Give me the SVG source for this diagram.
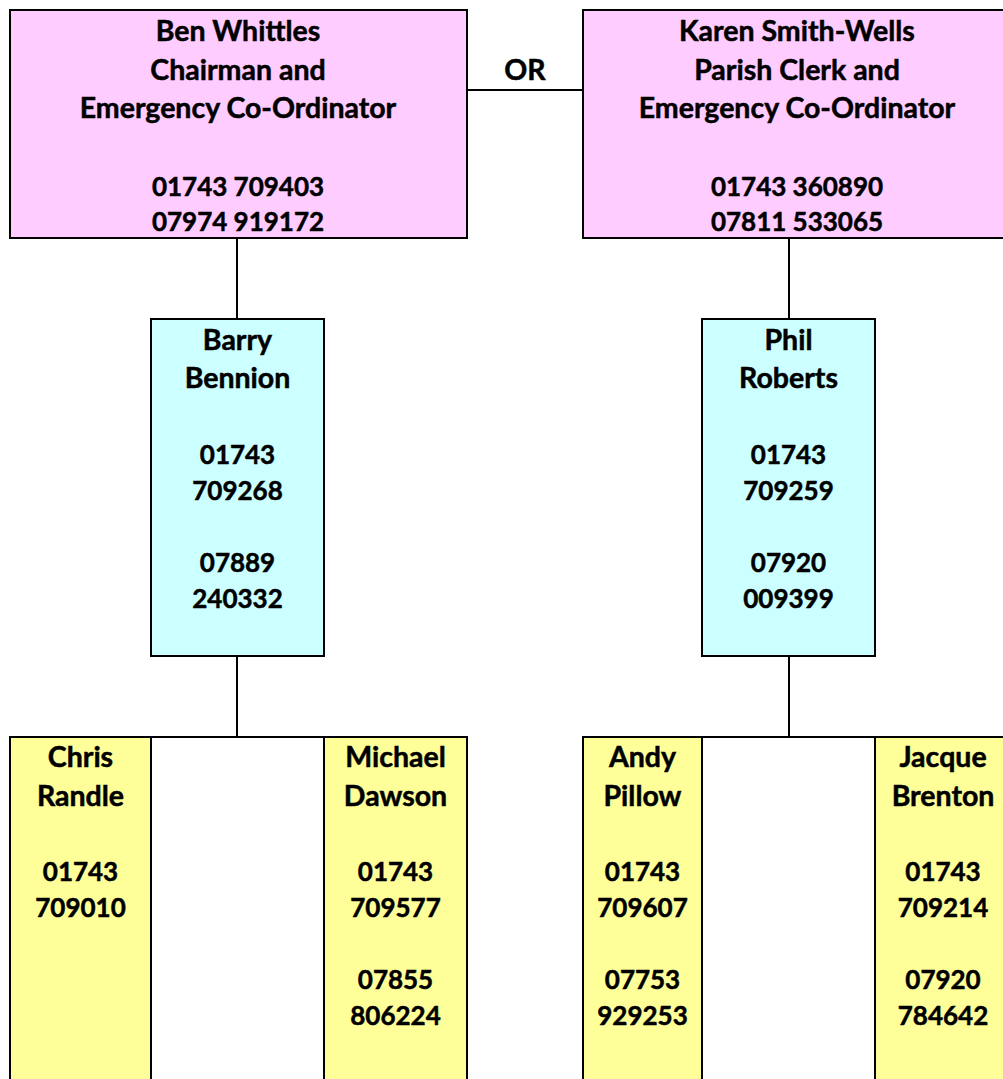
<svg xmlns="http://www.w3.org/2000/svg" width="1003" height="1079" viewBox="0 0 1003 1079">
<style>
.box{stroke:#000;stroke-width:2}
.pink{fill:#FFCCFF}
.cyan{fill:#CCFFFF}
.yellow{fill:#FFFF99}
.t{font-family:Lato,"Liberation Sans",sans-serif;font-weight:bold;font-size:28.5px;fill:#000;stroke:#000;stroke-width:0.5;text-anchor:middle}
.n{font-size:26px}
.conn{stroke:#000;stroke-width:2;fill:none}
</style>
<rect width="1003" height="1079" fill="#fff"/>
<g id="connectors">
<line class="conn" x1="467" y1="90" x2="583" y2="90"/>
<line class="conn" x1="237" y1="238" x2="237" y2="319"/>
<line class="conn" x1="789" y1="238" x2="789" y2="319"/>
<line class="conn" x1="237" y1="656" x2="237" y2="737"/>
<line class="conn" x1="789" y1="656" x2="789" y2="737"/>
<line class="conn" x1="151" y1="737" x2="324" y2="737"/>
<line class="conn" x1="702" y1="737" x2="875" y2="737"/>
<text class="t" x="525" y="80">OR</text>
</g>
<g id="ben">
<rect class="box pink" x="10" y="10" width="457" height="228"/>
<text class="t" x="238" y="41">Ben Whittles</text>
<text class="t" x="238" y="80">Chairman and</text>
<text class="t" x="238" y="118">Emergency Co-Ordinator</text>
<text class="t n" x="238" y="196">01743 709403</text>
<text class="t n" x="238" y="231">07974 919172</text>
</g>
<g id="karen">
<rect class="box pink" x="583" y="10" width="430" height="228"/>
<text class="t" x="797" y="41">Karen Smith-Wells</text>
<text class="t" x="797" y="80">Parish Clerk and</text>
<text class="t" x="797" y="118">Emergency Co-Ordinator</text>
<text class="t n" x="797" y="196">01743 360890</text>
<text class="t n" x="797" y="231">07811 533065</text>
</g>
<g id="barry">
<rect class="box cyan" x="151" y="319" width="173" height="337"/>
<text class="t" x="237.5" y="350">Barry</text>
<text class="t" x="237.5" y="388">Bennion</text>
<text class="t n" x="237.5" y="464">01743</text>
<text class="t n" x="237.5" y="500">709268</text>
<text class="t n" x="237.5" y="572">07889</text>
<text class="t n" x="237.5" y="608">240332</text>
</g>
<g id="phil">
<rect class="box cyan" x="702" y="319" width="173" height="337"/>
<text class="t" x="788.5" y="350">Phil</text>
<text class="t" x="788.5" y="388">Roberts</text>
<text class="t n" x="788.5" y="464">01743</text>
<text class="t n" x="788.5" y="500">709259</text>
<text class="t n" x="788.5" y="572">07920</text>
<text class="t n" x="788.5" y="608">009399</text>
</g>
<g id="chris">
<rect class="box yellow" x="10" y="737" width="141" height="360"/>
<text class="t" x="80.5" y="767">Chris</text>
<text class="t" x="80.5" y="806">Randle</text>
<text class="t n" x="80.5" y="881">01743</text>
<text class="t n" x="80.5" y="917">709010</text>
</g>
<g id="michael">
<rect class="box yellow" x="324" y="737" width="143" height="360"/>
<text class="t" x="395.5" y="767">Michael</text>
<text class="t" x="395.5" y="806">Dawson</text>
<text class="t n" x="395.5" y="881">01743</text>
<text class="t n" x="395.5" y="917">709577</text>
<text class="t n" x="395.5" y="989">07855</text>
<text class="t n" x="395.5" y="1025">806224</text>
</g>
<g id="andy">
<rect class="box yellow" x="583" y="737" width="119" height="360"/>
<text class="t" x="642.5" y="767">Andy</text>
<text class="t" x="642.5" y="806">Pillow</text>
<text class="t n" x="642.5" y="881">01743</text>
<text class="t n" x="642.5" y="917">709607</text>
<text class="t n" x="642.5" y="989">07753</text>
<text class="t n" x="642.5" y="1025">929253</text>
</g>
<g id="jacque">
<rect class="box yellow" x="875" y="737" width="137" height="360"/>
<text class="t" x="943" y="767">Jacque</text>
<text class="t" x="943" y="806">Brenton</text>
<text class="t n" x="943" y="881">01743</text>
<text class="t n" x="943" y="917">709214</text>
<text class="t n" x="943" y="989">07920</text>
<text class="t n" x="943" y="1025">784642</text>
</g>
</svg>
